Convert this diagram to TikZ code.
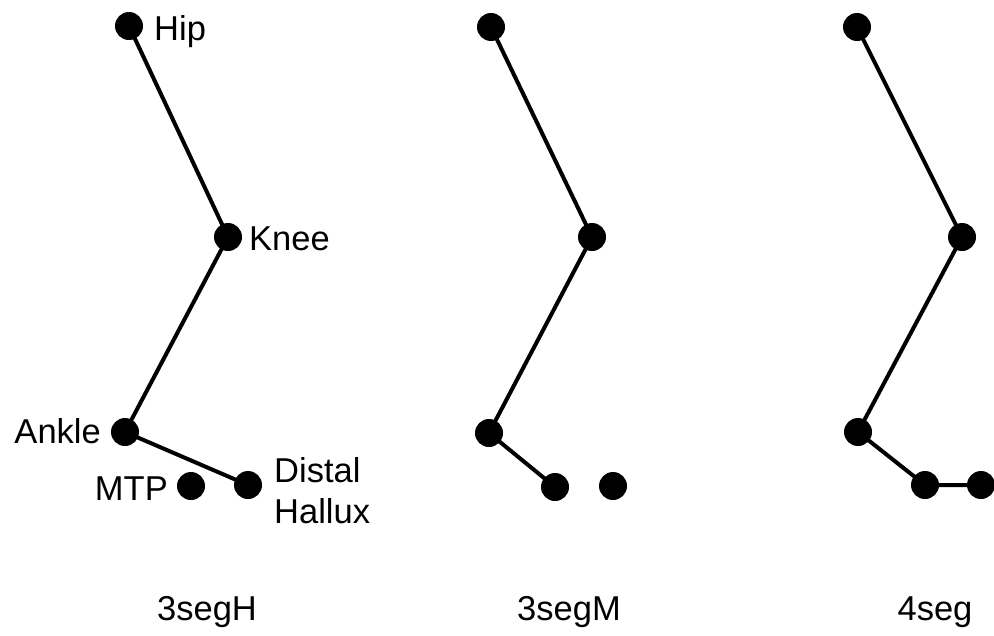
\documentclass[tikz,border=0pt]{standalone}
\usepackage{fontspec}
\setmainfont{Liberation Sans}
\begin{document}
\begin{tikzpicture}[x=1pt,y=-1pt,
  jt/.style={circle,fill=black,inner sep=0pt,minimum size=28pt},
  seg/.style={line width=4pt,black},
  lbl/.style={font=\fontsize{34.5}{41}\selectfont,inner sep=0pt},
  ttl/.style={font=\fontsize{34.5}{41}\selectfont,inner sep=0pt}]
\useasboundingbox (0,0) rectangle (994,635);
% panel 1
\node[jt] (h1) at (129,26) {};
\node[jt] (k1) at (228,237) {};
\node[jt] (a1) at (125,432) {};
\node[jt] (m1) at (191,486) {};
\node[jt] (d1) at (248,485) {};
\draw[seg] (h1.center) -- (k1.center) -- (a1.center) -- (d1.center);
\node[lbl,anchor=base west] (th) at (154,40) {Hip};
\node[lbl,anchor=base west] (tk) at (249,250) {Knee};
\node[lbl,anchor=base east] (ta) at (101,443) {Ankle};
\node[lbl,anchor=base east] (tm) at (168,500) {MTP};
\node[lbl,align=left,anchor=base west] (td) at (274,523) {Distal\\Hallux};
% panel 2
\node[jt] (h2) at (491,27) {};
\node[jt] (k2) at (592,237) {};
\node[jt] (a2) at (489,433) {};
\node[jt] (m2) at (555,487) {};
\node[jt] (d2) at (613,486) {};
\draw[seg] (h2.center) -- (k2.center) -- (a2.center) -- (m2.center);
% panel 3
\node[jt] (h3) at (857,27) {};
\node[jt] (k3) at (962,237) {};
\node[jt] (a3) at (858,432) {};
\node[jt] (m3) at (925,485) {};
\node[jt] (d3) at (981,485) {};
\draw[seg] (h3.center) -- (k3.center) -- (a3.center) -- (m3.center) -- (d3.center);
% titles
\node[ttl,anchor=base] (t1) at (207,620) {3segH};
\node[ttl,anchor=base] (t2) at (569,620) {3segM};
\node[ttl,anchor=base] (t3) at (935,620) {4seg};
\end{tikzpicture}
\end{document}
